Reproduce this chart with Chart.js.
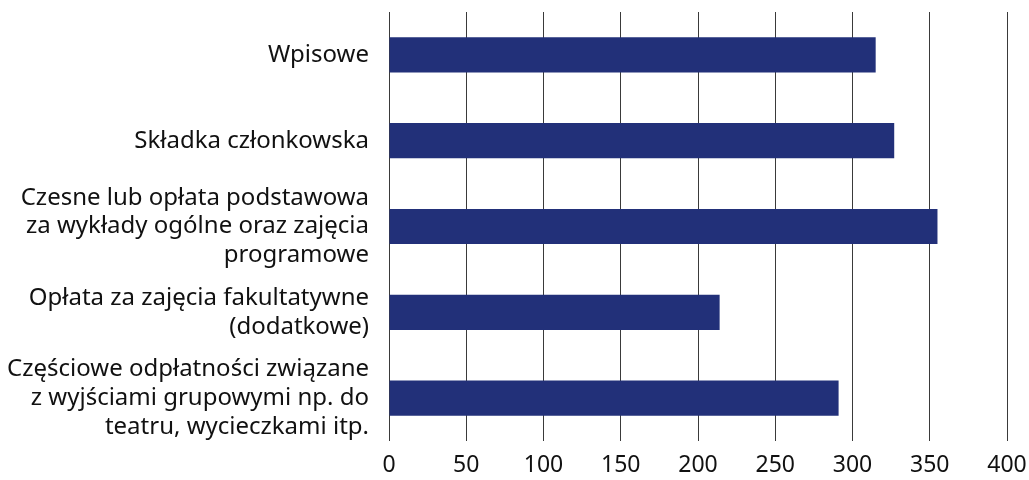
<!DOCTYPE html>
<html><head><meta charset="utf-8">
<script src="https://cdn.jsdelivr.net/npm/chart.js@4/dist/chart.umd.min.js"></script>
<style>html,body{margin:0;padding:0;background:#fff}#c{display:block}</style>
</head><body>
<canvas id="c" width="1029" height="480"></canvas>
<script>
const categories = [
  ["Wpisowe"],
  ["Składka członkowska"],
  ["Czesne lub opłata podstawowa", "za wykłady ogólne oraz zajęcia", "programowe"],
  ["Opłata za zajęcia fakultatywne", "(dodatkowe)"],
  ["Częściowe odpłatności związane", "z wyjściami grupowymi np. do", "teatru, wycieczkami itp."]
];
const values = [315, 327, 355, 214, 291];
const tickMin = 0, tickMax = 400, tickStep = 50;

new Chart(document.getElementById('c'), {
  type: 'bar',
  data: {
    labels: categories,
    datasets: [{
      data: values,
      backgroundColor: '#223079',
      borderWidth: 0,
      categoryPercentage: 1,
      barPercentage: 0.41
    }]
  },
  options: {
    indexAxis: 'y',
    responsive: false,
    animation: false,
    layout: { padding: { top: 12, right: 22, left: 0, bottom: 0 } },
    plugins: { legend: { display: false }, tooltip: { enabled: false } },
    scales: {
      x: {
        min: tickMin, max: tickMax,
        ticks: { stepSize: tickStep, color: '#111', font: { family: 'Noto Sans', size: 23 }, padding: 11 },
        grid: { color: '#3a3a3a', lineWidth: 1, drawTicks: false },
        border: { display: false },
        afterFit(scale) { scale.height = 39; scale.paddingLeft = 0; scale.paddingRight = 0; }
      },
      y: {
        grid: { display: false },
        border: { display: false },
        ticks: { autoSkip: false, color: '#111', font: { family: 'Noto Sans', size: 24, lineHeight: 1.2 }, padding: 12, crossAlign: 'near' },
        afterFit(scale) { scale.width = 389; scale.paddingTop = 0; scale.paddingBottom = 0; }
      }
    }
  }
});
</script>
</body></html>
